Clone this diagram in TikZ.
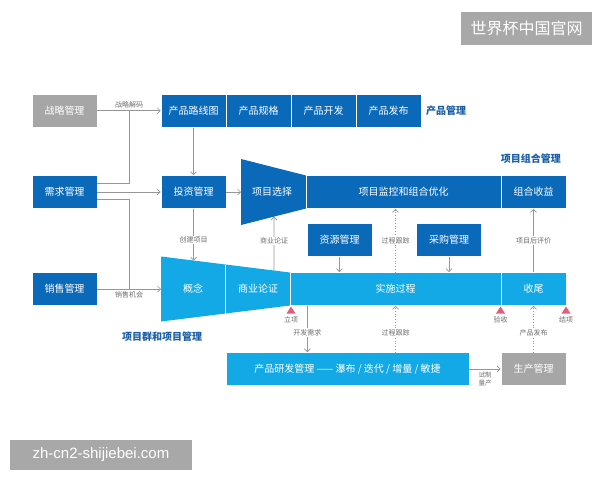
\documentclass[tikz,border=0pt]{standalone}
\usepackage{fontspec}
\setmainfont{Noto Sans CJK SC}
\newfontfamily\latinfont{Liberation Sans}
\usepackage{xcolor}
\definecolor{pmdark}{HTML}{0B69BA}
\definecolor{pmlight}{HTML}{12A9E6}
\definecolor{pmgray}{HTML}{A6A6A6}
\definecolor{pmtitle}{HTML}{1A5EA6}
\definecolor{pmline}{HTML}{969696}
\definecolor{pmtext}{HTML}{6E6E6E}
\definecolor{pmred}{HTML}{E35C7A}
\definecolor{pmmark}{HTML}{A8A8A8}
\usepackage{tikz}
\usetikzlibrary{
  arrows.meta,
  positioning,
  calc,
}

\begin{document}
\begin{tikzpicture}[
  x=1pt, y=-1pt,
  darkbox/.style={
    fill=pmdark, draw=white, line width=0.6pt, text=white,
    minimum width=65pt, minimum height=33pt, inner sep=0pt,
    font=\fontsize{10pt}{12pt}\selectfont,
  },
  lightbox/.style={darkbox, fill=pmlight},
  graybox/.style={darkbox, fill=pmgray},
  boxtext/.style={text=white, inner sep=0pt, font=\fontsize{10pt}{12pt}\selectfont},
  title/.style={text=pmtitle, inner sep=0pt, font=\bfseries\fontsize{10pt}{12pt}\selectfont},
  note/.style={text=pmtext, inner sep=1pt, font=\fontsize{7pt}{8pt}\selectfont},
  notebg/.style={note, fill=white},
  connector/.style={
    -{Straight Barb[length=3pt,width=6pt]}, line width=0.7pt, color=pmline,
  },
  tracker/.style={connector, dotted},
  wire/.style={line width=0.7pt, color=pmline},
  marker/.style={fill=pmred},
  watermark/.style={fill=pmmark, text=white, inner sep=0pt},
]
  \useasboundingbox (0,0) rectangle (600,480);

  % --- funnels ---
  \coordinate (sf-tl) at (241,159);
  \coordinate (sf-tr) at (306,175.5);
  \coordinate (sf-br) at (306,208.5);
  \coordinate (sf-bl) at (241,225);
  \fill[pmdark] (sf-tl) -- (sf-tr) -- (sf-br) -- (sf-bl) -- cycle;
  \node[boxtext] (select) at (272,192) {项目选择};

  \coordinate (cf-tl) at (161,256.5);
  \coordinate (cf-tr) at (290,272.5);
  \coordinate (cf-br) at (290,305.5);
  \coordinate (cf-bl) at (161,321.5);
  \fill[pmlight] (cf-tl) -- (cf-tr) -- (cf-br) -- (cf-bl) -- cycle;
  \draw[white, line width=0.6pt] ($(cf-tl)!0.5!(cf-tr)$) -- ($(cf-bl)!0.5!(cf-br)$);
  \node[boxtext] (concept) at (193,289) {概念};
  \node[boxtext] (case) at (258,289) {商业论证};

  % --- left column ---
  \node[graybox] (strat)  at (64.5,110.7) {战略管理};
  \node[darkbox] (demand) at (64.5,192) {需求管理};
  \node[darkbox] (sales)  at (64.5,289) {销售管理};

  % --- product management row ---
  \node[darkbox] (roadmap) at (193.5,110.7) {产品路线图};
  \node[darkbox] (spec)    at (258.5,110.7) {产品规格};
  \node[darkbox] (develop) at (323.5,110.7) {产品开发};
  \node[darkbox] (launch)  at (388.5,110.7) {产品发布};
  \node[title, anchor=west] (pm-title) at (426,111) {产品管理};

  % --- portfolio row ---
  \node[darkbox] (invest) at (193.5,192) {投资管理};
  \node[darkbox, minimum width=195pt] (monitor) at (403.5,192) {项目监控和组合优化};
  \node[darkbox] (gain) at (533.5,192) {组合收益};
  \node[title, anchor=east] (pf-title) at (561,159) {项目组合管理};

  % --- project row ---
  \node[darkbox] (resource) at (339.5,239.7) {资源管理};
  \node[darkbox] (purchase) at (449,239.7) {采购管理};
  \node[lightbox, minimum width=211pt] (exec) at (395.5,289) {实施过程};
  \node[lightbox] (close) at (533.5,289) {收尾};
  \node[title] (pg-title) at (162,337) {项目群和项目管理};

  % --- development row ---
  \node[lightbox, minimum width=243pt] (rd) at (347.5,369) {产品研发管理 —— 瀑布 / 迭代 / 增量 / 敏捷};
  \node[graybox] (prod) at (533.5,369) {生产管理};

  % --- milestones ---
  \fill[marker] (291,306.5) -- (295.5,313.5) -- (286.5,313.5) -- cycle;
  \node[note] (m-start) at (291,320) {立项};
  \fill[marker] (500.5,306.5) -- (505,313.5) -- (496,313.5) -- cycle;
  \node[note] (m-accept) at (500.5,320) {验收};
  \fill[marker] (566,306.5) -- (570.5,313.5) -- (561.5,313.5) -- cycle;
  \node[note] (m-end) at (566,320) {结项};

  % --- connectors ---
  \coordinate (j-top) at (129.3,110.7);
  \coordinate (j-low) at (129.3,289);
  \draw[wire] ([yshift=9pt]demand.east) -| (j-top);
  \draw[wire] ([yshift=-7pt]demand.east) -| (j-low);

  \draw[connector] (strat) -- (roadmap) node[note, midway, above=1pt] {战略解码};
  \draw[connector] (demand) -- (invest);
  \draw[connector] (sales) -- (sales -| cf-tl) node[note, midway, below=1pt] {销售机会};
  \draw[connector] (roadmap) -- (invest);
  \draw[connector] (invest) -- (invest -| sf-tl);

  \coordinate (c-in)  at ($(cf-tl)!0.252!(cf-tr)$);
  \coordinate (c-out) at ($(cf-tl)!0.876!(cf-tr)$);
  \coordinate (s-in)  at ($(sf-bl)!0.508!(sf-br)$);
  \draw[connector] (invest) -- (c-in) node[notebg, pos=0.6] {创建项目};
  \draw[connector] (c-out) -- (s-in) node[notebg, pos=0.55] {商业论证};

  \draw[connector] (resource) -- (resource |- exec.north);
  \draw[connector] (purchase) -- (purchase |- exec.north);
  \draw[tracker] (exec.north) -- (exec.north |- monitor.south) node[notebg, midway] {过程跟踪};
  \draw[connector] (close) -- (gain) node[notebg, midway] {项目后评价};

  \coordinate (req) at (307.3,305.5);
  \draw[connector] (req) -- (req |- rd.north) node[notebg, pos=0.58] {开发需求};
  \draw[tracker] (exec.south |- rd.north) -- (exec.south) node[notebg, pos=0.42] {过程跟踪};
  \draw[tracker] (prod) -- (close) node[notebg, pos=0.42] {产品发布};
  \draw[connector] (rd) -- (prod) node[note, midway, below=2pt, align=center, font=\fontsize{6.5pt}{7.5pt}\selectfont] {试制\\量产};

  % --- watermarks ---
  \node[watermark, minimum width=131pt, minimum height=33pt,
    font=\fontsize{16pt}{18pt}\selectfont] (mark-top) at (526.5,28) {世界杯中国官网};
  \node[watermark, minimum width=182pt, minimum height=30pt,
    font=\latinfont\fontsize{15pt}{18pt}\selectfont] (mark-bottom) at (101,455) {zh-cn2-shijiebei.com};
\end{tikzpicture}
\end{document}
